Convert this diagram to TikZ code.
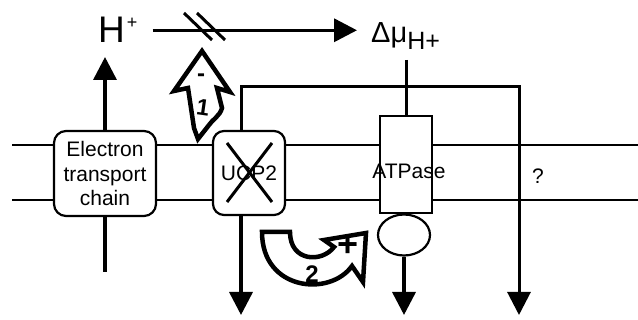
\documentclass[tikz,border=0pt]{standalone}
\usepackage{fontspec}
\setmainfont{Liberation Sans}
\usetikzlibrary{arrows.meta,shapes.geometric}

\begin{document}
\begin{tikzpicture}[x=1pt,y=-1pt,
  arr/.style={line width=3.5pt,line join=miter,-{Triangle[width=23pt,length=23pt]}},
  box/.style={draw,line width=2.2pt,fill=white,inner sep=0pt},
  hollow/.style={draw,line width=4.5pt,fill=white,line join=miter},
  lbl/.style={font=\fontsize{21}{24.5}\selectfont},
  sgn/.style={font=\bfseries\fontsize{#1}{#1}\selectfont,inner sep=0pt}]
\useasboundingbox (0,0) rectangle (638,320);
% membrane
\draw[line width=1.8pt] (12,145) -- (638,145);
\draw[line width=1.8pt] (12,200) -- (638,200);
% proteins
\node[box,rounded corners=12pt,minimum width=102pt,minimum height=85pt,lbl,align=center] (etc) at (105,173.5) {Electron\\transport\\chain};
\node[box,rounded corners=11pt,minimum width=72pt,minimum height=84pt,lbl] (ucp) at (249,173) {UCP2};
\draw[line width=3pt] (227,143) -- (272,202) (272,143) -- (227,202);
\node[box,minimum width=52pt,minimum height=97pt] (atp) at (406,164.5) {};
\node[lbl,inner sep=0pt] (atplbl) at (409,171) {ATPase};
\node[box,ellipse,minimum width=52pt,minimum height=41pt] (f1) at (404,235) {};
\node[lbl,inner sep=0pt] (q) at (538,176) {?};
% top labels
\node[anchor=base west,inner sep=0pt,font=\fontsize{37}{40}\selectfont] (hp) at (98,43) {H\hspace{2pt}\raisebox{14pt}{\fontsize{18}{18}\selectfont+}};
\node[anchor=base west,inner sep=0pt,font=\fontsize{29}{30}\selectfont] (dmu) at (371,43) {Δμ\raisebox{-7pt}{\fontsize{25}{25}\selectfont H+}};
% ends of the arrows
\coordinate (hpin) at (105,57);
\coordinate (etcout) at (105,272);
\coordinate (ucpout) at (241,315);
\coordinate (qtop) at (519,87);
\coordinate (qout) at (519,315);
\coordinate (dmuin) at (406,60);
\coordinate (f1out) at (404,315);
% connectors
\draw[arr] (etc.north) -- (hpin);
\draw[line width=3.5pt] (etc.south) -- (etcout);
\draw[arr,shorten <=15pt,shorten >=14pt] (hp.east) -- (hp.east -| dmu.west);
\foreach \d in {0,13} {\draw[line width=3pt] (184+\d,13) -- (212+\d,40);}
\draw[arr] (ucp.south -| ucpout) -- (ucpout);
\draw[arr,line width=3pt] (ucp.north -| ucpout) |- (qtop) -- (qout);
\draw[line width=3pt] (dmuin) -- (atp.north);
\draw[arr] (f1.south) -- (f1out);
% effect 1
\draw[hollow] (202,51) -- (230,92) -- (217,88) -- (222,108) .. controls (220,116) and (212,120) .. (209,125) -- (198,139) -- (194,128) -- (188,88) -- (174,91) -- cycle;
\node[sgn=24] (m1) at (201,78) {-};
\node[sgn=23,rotate=-8] (n1) at (203,108) {1};
% effect 2
\draw[hollow] (262,232) -- (290,232) .. controls (290,262) and (322,263) .. (334,247) -- (324,240) -- (366,233) -- (363,282) -- (352,266) .. controls (330,297) and (262,291) .. (262,232) -- cycle;
\node[sgn=36] (p2) at (348,246) {+};
\node[sgn=24] (n2) at (312,274) {2};
\end{tikzpicture}
\end{document}
